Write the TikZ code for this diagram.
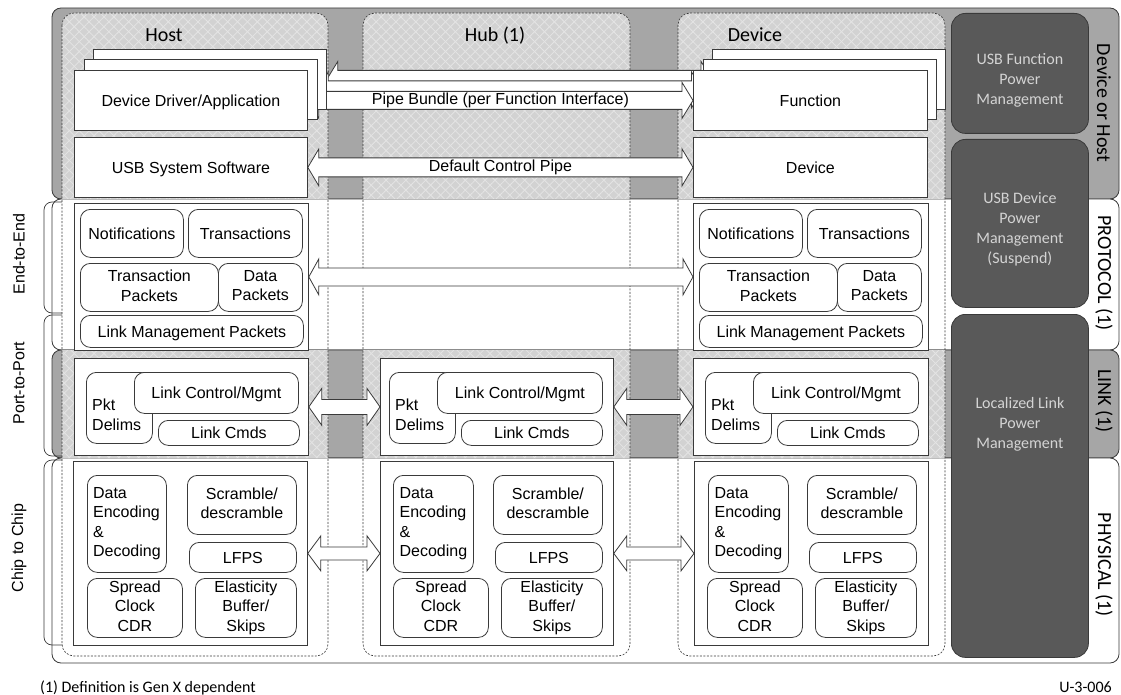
\documentclass[tikz,border=0pt]{standalone}
\usepackage{fontspec}
\setmainfont{Liberation Sans}
\newfontfamily\carlito{Carlito}
\usetikzlibrary{calc,patterns.meta}
\definecolor{bandgray}{HTML}{A6A6A6}
\definecolor{colgray}{HTML}{D2D2D2}
\definecolor{hatchc}{HTML}{E4E4E4}
\definecolor{pmfill}{HTML}{595959}
\definecolor{pmtext}{HTML}{D4D4D4}
\definecolor{edge}{HTML}{3A3A3A}
\pgfdeclarelayer{bg}
\pgfdeclarelayer{mid}
\pgfsetlayers{bg,mid,main}
\newcommand\boxstrut{\rule[-3.5pt]{0pt}{18.5pt}}
\tikzset{
  ar/.style={font=\fontsize{16}{19.5}\selectfont},
  box/.style={draw=edge, fill=white, line width=0.8pt, inner sep=0pt, anchor=north west, align=center, ar,
    execute at begin node=\boxstrut, execute at end node=\boxstrut},
  rnd/.style={rounded corners=10pt},
  band/.style={draw=edge, line width=0.8pt, rounded corners=9pt},
  coldash/.style={draw=edge, line width=0.6pt, dash pattern=on 2pt off 1.5pt, rounded corners=12pt},
  pm/.style={draw=edge, fill=pmfill, line width=0.8pt, rounded corners=14pt, inner sep=0pt, anchor=north west},
  pmtxt/.style={text=pmtext, font=\carlito\fontsize{16}{20}\selectfont, align=center, inner sep=0pt},
  title/.style={font=\carlito\fontsize{20}{24}\selectfont, inner sep=0pt, anchor=base},
  side/.style={font=\carlito\fontsize{20}{24}\selectfont, rotate=-90, inner sep=0pt},
  lside/.style={ar, rotate=90, inner sep=0pt},
  brace/.style={draw=edge, line width=0.7pt, rounded corners=8pt},
  blk/.style={draw=edge, fill=white, line width=0.8pt},
  foot/.style={font=\carlito\fontsize{16}{20}\selectfont, inner sep=0pt},
  lbl/.style={ar, align=left, inner sep=0pt, anchor=west},
}
\newcommand\bx[6][]{\node[box,minimum width=#4pt,minimum height=#5pt,#1] (#2) at (#3) {#6};}
\newcommand\dblarrow[5]{%
  \draw[blk] let \p1=(#1), \p2=(#2) in
  (\x1,\y1) -- (\x1+#5pt,\y1+#4pt) -- (\x1+#5pt,\y1+#3pt) -- (\x2-#5pt,\y1+#3pt)
  -- (\x2-#5pt,\y1+#4pt) -- (\x2,\y1) -- (\x2-#5pt,\y1-#4pt) -- (\x2-#5pt,\y1-#3pt)
  -- (\x1+#5pt,\y1-#3pt) -- (\x1+#5pt,\y1-#4pt) -- cycle;}
\begin{document}
\begin{tikzpicture}[x=1pt,y=-1pt]
\useasboundingbox (0,0) rectangle (1121,695);
\begin{pgfonlayer}{bg}
\draw[band, fill=bandgray] (52,8) rectangle (1119,199);
\draw[band, fill=white] (52,199) rectangle (1119,350);
\draw[band, fill=bandgray] (52,350) rectangle (1119,458);
\draw[band, fill=white] (52,458) rectangle (1119,663);
\begin{scope}
\clip (52,8) rectangle (1119,199) (52,350) rectangle (1119,458);
\foreach \a/\b in {62/328,363/630,678/945}{
 \fill[colgray, rounded corners=12pt] (\a,13) rectangle (\b,656);
 \fill[pattern={Lines[angle=45,distance=7pt,line width=0.8pt]}, pattern color=hatchc, rounded corners=12pt] (\a,13) rectangle (\b,656);
 \fill[pattern={Lines[angle=-45,distance=7pt,line width=0.8pt]}, pattern color=hatchc, rounded corners=12pt] (\a,13) rectangle (\b,656);
}
\end{scope}
\foreach \a/\b in {62/328,363/630,678/945}
 \draw[coldash] (\a,13) rectangle (\b,656);
\draw[brace] (62,202) -- (44,202) -- (44,313) -- (62,313);
\draw[brace] (62,315) -- (44,315) -- (44,456) -- (62,456);
\draw[brace] (62,460) -- (44,460) -- (44,645) -- (62,645);
\end{pgfonlayer}
% power management
\node[pm, minimum width=137pt, minimum height=120pt, label={[pmtxt, yshift=-7pt]center:{USB Function\\Power\\Management}}] (pm1) at (951,13) {};
\node[pm, minimum width=137pt, minimum height=168pt, label={[pmtxt, yshift=-5.5pt]center:{USB Device\\Power\\Management\\(Suspend)}}] (pm2) at (951,139) {};
\node[pm, minimum width=137pt, minimum height=343pt, label={[pmtxt, yshift=62pt]center:{Localized Link\\Power\\Management}}] (pm3) at (951,314) {};
% top band
\bx{hB}{93,49}{233}{60}{}
\bx{hM}{83.5,59.5}{233}{60}{}
\bx{hF}{74,70}{233}{60}{Device Driver/Application}
\bx{hS}{74,137}{233}{60}{USB System Software}
\bx{fB}{712,49}{233}{60}{}
\bx{fM}{702.5,59.5}{233}{60}{}
\bx{fF}{693,70}{234}{60}{Function}
\bx{dS}{693,137}{234}{60}{Device}
% protocol
\bx{hP}{74,203}{234}{147}{}
\bx[rnd]{hNot}{80,209}{103}{48}{Notifications}
\bx[rnd]{hTra}{188,209}{114}{48}{Transactions}
\bx[rnd]{hTP}{80,263}{138}{48}{Transaction\\Packets}
\bx[rnd]{hDP}{218,263}{84}{48}{Data\\Packets}
\bx[rnd]{hLMP}{80,315}{223}{32}{Link Management Packets}
\bx{dP}{693,203}{235}{147}{}
\bx[rnd]{dNot}{699,209}{103}{48}{Notifications}
\bx[rnd]{dTra}{807,209}{114}{48}{Transactions}
\bx[rnd]{dTP}{699,263}{138}{48}{Transaction\\Packets}
\bx[rnd]{dDP}{837,263}{84}{48}{Data\\Packets}
\bx[rnd]{dLMP}{699,315}{223}{32}{Link Management Packets}
% link
\bx{hL}{74,358}{234}{97}{}
\bx[rnd, label={[lbl, xshift=6pt, yshift=-7pt]west:{Pkt\\Delims}}]{hPD}{86,372}{66}{71}{}
\bx[rnd]{hLC}{134,372}{164}{41}{Link Control/Mgmt}
\bx[rnd]{hLCm}{158,420}{141}{25}{Link Cmds}
\bx{bL}{380,358}{233}{97}{}
\bx[rnd, label={[lbl, xshift=6pt, yshift=-7pt]west:{Pkt\\Delims}}]{bPD}{389,372}{66}{71}{}
\bx[rnd]{bLC}{437,372}{165}{41}{Link Control/Mgmt}
\bx[rnd]{bLCm}{461,420}{141}{25}{Link Cmds}
\bx{dL}{693,358}{235}{97}{}
\bx[rnd, label={[lbl, xshift=6pt, yshift=-7pt]west:{Pkt\\Delims}}]{dPD}{705,372}{66}{71}{}
\bx[rnd]{dLC}{753,372}{165}{41}{Link Control/Mgmt}
\bx[rnd]{dLCm}{777,420}{141}{25}{Link Cmds}
% physical
\bx{hPh}{73,461}{234}{184}{}
\bx[rnd, align=left]{hDE}{87,475}{79}{97}{Data\\Encoding\\\&\\Decoding}
\bx[rnd]{hSc}{187,475}{109}{59}{Scramble/\\descramble}
\bx[rnd]{hLF}{189,542}{107}{30}{LFPS}
\bx[rnd]{hSp}{87,578}{95}{59}{Spread\\Clock\\CDR}
\bx[rnd]{hEl}{195,578}{101}{59}{Elasticity\\Buffer/\\Skips}
\bx{bPh}{380,461}{233}{184}{}
\bx[rnd, align=left]{bDE}{393,475}{80}{97}{Data\\Encoding\\\&\\Decoding}
\bx[rnd]{bSc}{493,475}{109}{59}{Scramble/\\descramble}
\bx[rnd]{bLF}{495,542}{107}{30}{LFPS}
\bx[rnd]{bSp}{393,578}{95}{59}{Spread\\Clock\\CDR}
\bx[rnd]{bEl}{501,578}{101}{59}{Elasticity\\Buffer/\\Skips}
\bx{dPh}{694,461}{234}{184}{}
\bx[rnd, align=left]{dDE}{708,475}{80}{97}{Data\\Encoding\\\&\\Decoding}
\bx[rnd]{dSc}{807,475}{109}{59}{Scramble/\\descramble}
\bx[rnd]{dLF}{809,542}{107}{30}{LFPS}
\bx[rnd]{dSp}{707,578}{95}{59}{Spread\\Clock\\CDR}
\bx[rnd]{dEl}{815,578}{101}{59}{Elasticity\\Buffer/\\Skips}
% arrows
\begin{pgfonlayer}{mid}
\dblarrow{hB.east}{fB.west}{9}{18}{11}
\dblarrow{hM.east}{fM.west}{9}{18}{11}
\dblarrow{hF.east}{fF.west}{9}{18}{11}
\dblarrow{hS.east}{dS.west}{9.5}{18.5}{11}
\dblarrow{hP.east}{dP.west}{9}{18}{10}
\dblarrow{hL.east}{bL.west}{7.5}{18.5}{13}
\dblarrow{bL.east}{dL.west}{7.5}{18.5}{13}
\dblarrow{hPh.east}{bPh.west}{6.5}{17.5}{13}
\dblarrow{bPh.east}{dPh.west}{6.5}{17.5}{13}
\end{pgfonlayer}
\node[ar] (pbl) at ($(hF.east)!0.5!(fF.west)$) {Pipe Bundle (per Function Interface)};
\node[ar] (dcl) at ($(hS.east)!0.5!(dS.west)$) {Default Control Pipe};
% titles
\node[title] (tHost) at (164,42) {Host};
\node[title] (tHub) at (495,42) {Hub (1)};
\node[title] (tDev) at (755,42) {Device};
\node[side] (sDH) at (1104,103) {Device or Host};
\node[side] (sPr) at (1104,273) {PROTOCOL (1)};
\node[side] (sLi) at (1104,401) {LINK (1)};
\node[side] (sPh) at (1104,565) {PHYSICAL (1)};
\node[lside] (lE) at (19,254) {End-to-End};
\node[lside] (lP) at (19,383) {Port-to-Port};
\node[lside] (lC) at (19,548) {Chip to Chip};
\node[foot, anchor=west] (fnote) at (40,688) {(1) Definition is Gen X dependent};
\node[foot, anchor=east] (fid) at (1112,687) {U-3-006};
\end{tikzpicture}
\end{document}
